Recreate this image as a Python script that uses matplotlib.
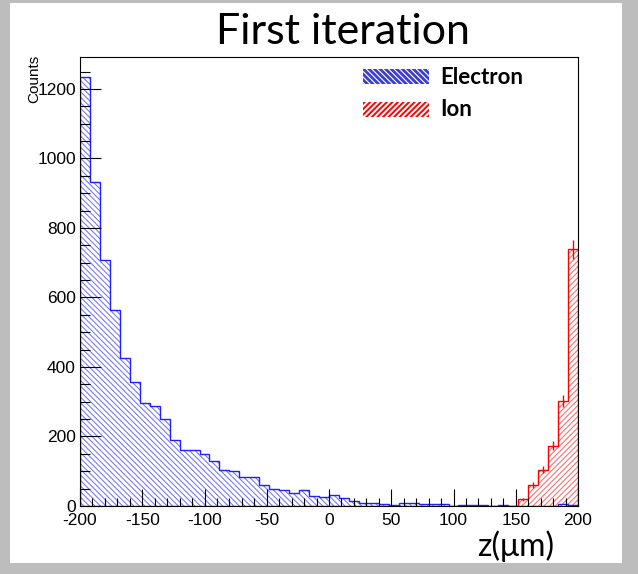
import numpy as np
import matplotlib
matplotlib.use("Agg")
import matplotlib.pyplot as plt
from matplotlib.patches import Rectangle
from matplotlib.ticker import MultipleLocator

plt.rcParams["axes.unicode_minus"] = False
plt.rcParams["font.family"] = ["Liberation Sans", "DejaVu Sans"]

# 50 bins of 8 um from -200 to 200
edges = np.linspace(-200, 200, 51)

electron = [1234, 931, 708, 564, 425, 356, 296, 288, 250, 189,
            160, 160, 150, 130, 104, 102, 84, 84, 59, 48,
            45, 38, 45, 29, 27, 31, 22, 13, 10, 10,
            6, 4, 8, 9, 6, 5, 5, 0, 2, 2,
            2, 0, 2, 0, 0, 0, 0, 0, 5, 3]

ion = [0] * 44 + [19, 60, 105, 173, 303, 739]

title = "First iteration"
xlabel = "z(\u03bcm)"
ylabel = "Counts"
labels = ["Electron", "Ion"]

W, H = 638, 574
fig = plt.figure(figsize=(W / 100, H / 100), dpi=100, facecolor="#bdbdbd")
fig.patches.append(Rectangle((10 / W, 1 - 563 / H), 612 / W, 560 / H,
                             transform=fig.transFigure, facecolor="white",
                             edgecolor="none", zorder=-10))

ax = fig.add_axes([80 / W, 1 - 506 / H, (578 - 80) / W, (506 - 57) / H])

centers = (edges[:-1] + edges[1:]) / 2
width = edges[1] - edges[0]

plt.rcParams["hatch.linewidth"] = 0.8
ax.bar(centers, electron, width=width, fill=False, hatch="\\" * 6,
       edgecolor="#7a7aff", linewidth=0)
ax.bar(centers, ion, width=width, fill=False, hatch="/" * 6,
       edgecolor="#ff7070", linewidth=0)
ax.stairs(electron, edges, color="#1f1fff", linewidth=1.0)
ax.stairs(ion, edges, color="#ff0000", linewidth=1.0)

ion_arr = np.array(ion, dtype=float)
nz = ion_arr > 0
ax.errorbar(centers[nz], ion_arr[nz], yerr=np.sqrt(ion_arr[nz]), fmt="none",
            ecolor="#ff0000", elinewidth=1.0, capsize=0)

ax.set_xlim(-200, 200)
ax.set_ylim(0, 1292)
ax.xaxis.set_major_locator(MultipleLocator(50))
ax.xaxis.set_minor_locator(MultipleLocator(10))
ax.yaxis.set_major_locator(MultipleLocator(200))
ax.yaxis.set_minor_locator(MultipleLocator(50))
ax.tick_params(axis="x", which="major", direction="in", length=12, width=0.8,
               labelsize=12.5, pad=5)
ax.tick_params(axis="x", which="minor", direction="in", length=6, width=0.8)
ax.tick_params(axis="y", which="major", direction="in", length=15, width=0.8,
               labelsize=12.5, pad=3)
ax.tick_params(axis="y", which="minor", direction="in", length=7, width=0.8)
for s in ax.spines.values():
    s.set_linewidth(0.8)

fig.text(343 / W, 1 - 32 / H, title, ha="center", va="center", fontsize=31,
         family=["Lato", "DejaVu Sans"])
fig.text(516 / W, 1 - 546 / H, xlabel, ha="center", va="center", fontsize=23,
         family=["Lato", "DejaVu Sans"])
fig.text(34 / W, 1 - 55 / H, ylabel, ha="center", va="top", rotation=90,
         fontsize=11)

# legend
plt.rcParams["hatch.linewidth"] = 2.0
fig.patches.append(Rectangle((363 / W, 1 - 84 / H), 66 / W, 15 / H,
                             transform=fig.transFigure, fill=False,
                             hatch="\\" * 6, edgecolor="#3c3cd0", linewidth=0))
plt.rcParams["hatch.linewidth"] = 1.4
fig.patches.append(Rectangle((363 / W, 1 - 117 / H), 66 / W, 15 / H,
                             transform=fig.transFigure, fill=False,
                             hatch="/" * 6, edgecolor="#ff0000", linewidth=0))
fig.text(440 / W, 1 - 77 / H, labels[0], ha="left", va="center", fontsize=16,
         fontweight="bold", family=["Lato", "DejaVu Sans"])
fig.text(440 / W, 1 - 110 / H, labels[1], ha="left", va="center", fontsize=16,
         fontweight="bold", family=["Lato", "DejaVu Sans"])

fig.savefig("out.png", dpi=100, facecolor=fig.get_facecolor())
